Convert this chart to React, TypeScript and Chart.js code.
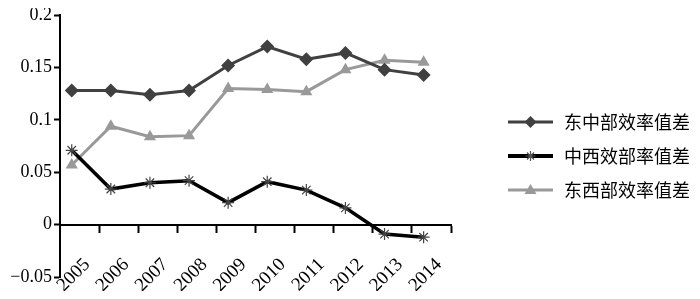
import React, { useEffect, useRef } from 'react';
import { Chart, registerables } from 'chart.js';

Chart.register(...registerables);

const years = ['2005', '2006', '2007', '2008', '2009', '2010', '2011', '2012', '2013', '2014'];
const eastCentral = [0.128, 0.128, 0.124, 0.128, 0.152, 0.170, 0.158, 0.164, 0.148, 0.143];
const centralWest = [0.071, 0.034, 0.040, 0.042, 0.021, 0.041, 0.033, 0.016, -0.009, -0.012];
const eastWest = [0.057, 0.094, 0.084, 0.085, 0.130, 0.129, 0.127, 0.148, 0.157, 0.155];
const seriesNames = ['东中部效率值差', '中西效部率值差', '东西部效率值差'];
const yMin = -0.05;
const yMax = 0.2;
const yStep = 0.05;

const C1 = '#404040';
const C2 = '#000000';
const C3 = '#999999';

function makeIcon(color: string, lw: number, marker: string, mColor: string) {
  const c = document.createElement('canvas');
  c.width = 45;
  c.height = 16;
  const g = c.getContext('2d') as CanvasRenderingContext2D;
  g.strokeStyle = color;
  g.lineWidth = lw;
  g.beginPath();
  g.moveTo(0, 8);
  g.lineTo(45, 8);
  g.stroke();
  const cx = 22.5, cy = 8;
  g.fillStyle = mColor;
  g.strokeStyle = mColor;
  if (marker === 'diamond') {
    g.beginPath();
    g.moveTo(cx, cy - 6); g.lineTo(cx + 6, cy); g.lineTo(cx, cy + 6); g.lineTo(cx - 6, cy);
    g.closePath(); g.fill();
  } else if (marker === 'triangle') {
    g.beginPath();
    g.moveTo(cx, cy - 6); g.lineTo(cx + 6, cy + 4); g.lineTo(cx - 6, cy + 4);
    g.closePath(); g.fill();
  } else {
    g.lineWidth = 1.2;
    g.beginPath();
    for (let k = 0; k < 4; k++) {
      const a = (Math.PI / 4) * k;
      g.moveTo(cx - Math.cos(a) * 5, cy - Math.sin(a) * 5);
      g.lineTo(cx + Math.cos(a) * 5, cy + Math.sin(a) * 5);
    }
    g.stroke();
  }
  return c;
}

export default function App() {
  const ref = useRef<HTMLCanvasElement | null>(null);
  useEffect(() => {
    if (!ref.current) return;
    const icons = [
      makeIcon(C1, 3, 'diamond', C1),
      makeIcon(C2, 4, 'star', '#555'),
      makeIcon(C3, 3, 'triangle', C3),
    ];
    const serif = "'Liberation Serif', 'Times New Roman', serif";
    const chart = new Chart(ref.current, {
      type: 'line',
      data: {
        datasets: [
          {
            label: seriesNames[0],
            data: eastCentral.map((v, i) => ({ x: i, y: v })),
            borderColor: C1, backgroundColor: C1, borderWidth: 3,
            pointStyle: 'rectRot', pointRadius: 7, pointBackgroundColor: C1, pointBorderColor: C1, pointBorderWidth: 0,
            tension: 0,
          },
          {
            label: seriesNames[1],
            data: centralWest.map((v, i) => ({ x: i, y: v })),
            borderColor: C2, backgroundColor: C2, borderWidth: 3.5,
            pointStyle: 'star', pointRadius: 6, pointBorderColor: '#444', pointBackgroundColor: '#444', pointBorderWidth: 1.2,
            tension: 0,
          },
          {
            label: seriesNames[2],
            data: eastWest.map((v, i) => ({ x: i, y: v })),
            borderColor: C3, backgroundColor: C3, borderWidth: 3,
            pointStyle: 'triangle', pointRadius: 7, pointBackgroundColor: C3, pointBorderColor: C3, pointBorderWidth: 0,
            tension: 0,
          },
        ],
      },
      options: {
        responsive: false,
        animation: false,
        layout: { padding: { top: 2, bottom: 14, left: 0, right: 0 } },
        plugins: {
          tooltip: { enabled: false },
          legend: {
            position: 'right',
            maxWidth: 400,
            title: { display: true, text: '', padding: 0, font: { size: 20, lineHeight: 1.25 } },
            labels: {
              usePointStyle: true,
              pointStyleWidth: 49,
              padding: 16,
              color: '#000',
              font: { family: "'Noto Sans CJK SC', sans-serif", size: 18 },
              generateLabels: (ch: any) => {
                const items = (Chart.defaults.plugins.legend.labels as any).generateLabels(ch);
                return items.map((it: any, i: number) => ({ ...it, pointStyle: icons[i] }));
              },
            },
          },
        },
        scales: {
          x: {
            type: 'linear',
            position: { y: 0 } as any,
            min: -0.3,
            max: 9.7,
            afterBuildTicks: (s: any) => {
              s.ticks = years.map((_, i) => ({ value: i + 0.7 }));
            },
            grid: { drawOnChartArea: false, drawTicks: true, tickLength: 7, tickColor: '#000', tickWidth: 2 },
            border: { display: true, color: '#000', width: 2 },
            ticks: {
              autoSkip: false,
              minRotation: 45,
              maxRotation: 45,
              labelOffset: -12,
              padding: 22,
              color: '#000',
              font: { family: serif, size: 19 },
              callback: (_v: any, idx: number) => years[idx],
            },
          },
          y: {
            type: 'linear',
            position: 'left',
            min: yMin,
            max: yMax,
            afterFit: (s: any) => { s.width = 52; },
            grid: { drawOnChartArea: false, drawTicks: true, tickLength: 6, tickColor: '#000', tickWidth: 2 },
            border: { display: true, color: '#000', width: 2 },
            ticks: {
              stepSize: yStep,
              padding: 2,
              color: '#000',
              font: { family: serif, size: 18, lineHeight: 0.3 },
              callback: (v: any) => {
                const s = String(Number(Number(v).toFixed(2)));
                return s.replace('-', '\u2212');
              },
            },
          },
          yPad: {
            type: 'linear',
            position: 'right',
            display: true,
            afterFit: (s: any) => { s.width = 39; },
            grid: { display: false, drawTicks: false },
            border: { display: false },
            ticks: { display: false },
          },
        },
      } as any,
    });
    return () => chart.destroy();
  }, []);
  return (
    <div style={{ width: 692, height: 283 }}>
      <canvas ref={ref} width={692} height={283} style={{ display: 'block' }} />
    </div>
  );
}
